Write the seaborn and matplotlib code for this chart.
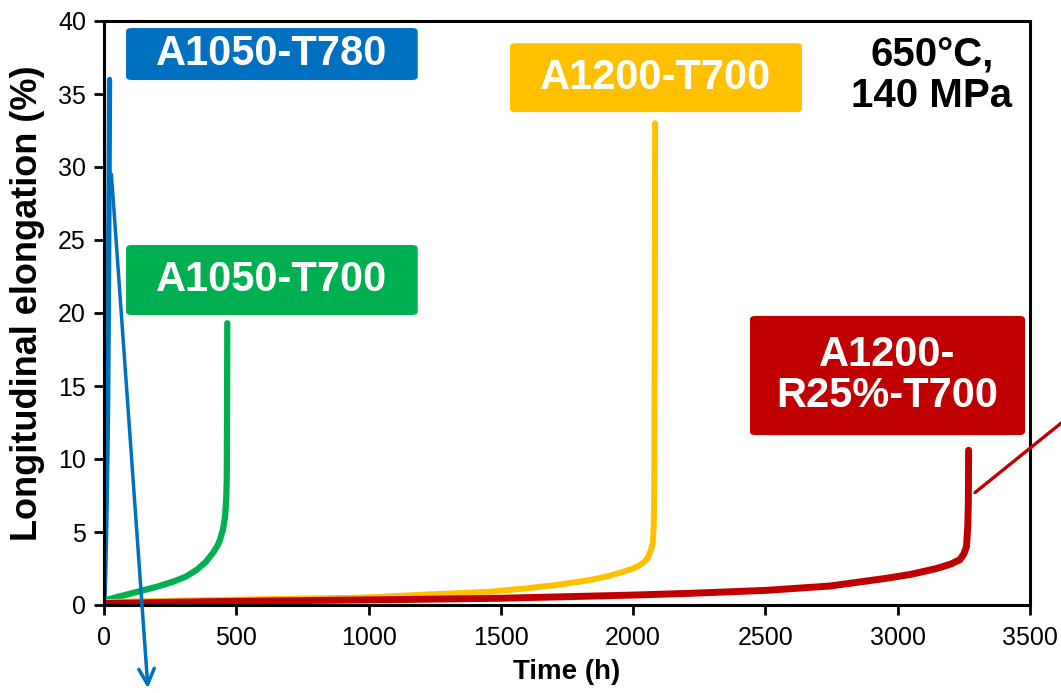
import matplotlib
matplotlib.use("Agg")
import matplotlib.pyplot as plt
import seaborn as sns
import pandas as pd
from matplotlib.patches import FancyBboxPatch

# ---- data ----
t_a1050_t780 = [0, 3, 6, 9, 12, 14, 16, 18, 20, 21]
e_a1050_t780 = [0.2, 2.0, 4.5, 7.5, 11.0, 14.0, 19.0, 25.0, 32.0, 36.0]

t_a1050_t700 = [0, 50, 100, 136, 200, 262, 310, 350, 385, 413, 430, 439, 450, 458, 462, 464, 465, 466]
e_a1050_t700 = [0.3, 0.55, 0.78, 0.95, 1.25, 1.6, 1.95, 2.4, 2.95, 3.6, 4.1, 4.5, 5.2, 6.1, 7.3, 8.6, 13.0, 19.3]

t_a1200_t700 = [0, 300, 600, 967, 1200, 1459, 1600, 1711, 1837, 1900, 1963, 2000, 2026, 2045,
                2057, 2068, 2074, 2078, 2080, 2082, 2083]
e_a1200_t700 = [0.2, 0.3, 0.4, 0.5, 0.7, 0.91, 1.15, 1.37, 1.71, 1.95, 2.28, 2.5, 2.74, 3.0,
                3.3, 3.8, 4.2, 5.5, 8.0, 20.0, 33.0]

t_a1200_r25 = [0, 300, 738, 1000, 1497, 2000, 2215, 2500, 2744, 2958, 3050, 3147, 3200, 3235,
               3250, 3260, 3265, 3267, 3268]
e_a1200_r25 = [0.1, 0.2, 0.3, 0.35, 0.46, 0.68, 0.8, 1.0, 1.3, 1.83, 2.1, 2.5, 2.8, 3.1,
               3.5, 4.0, 5.5, 7.2, 10.6]

x_ticks = [0, 500, 1000, 1500, 2000, 2500, 3000, 3500]
y_ticks = [0, 5, 10, 15, 20, 25, 30, 35, 40]

labels = ["A1050-T780", "A1050-T700", "A1200-T700", "A1200-\nR25%-T700"]
colors = ["#0070C0", "#00B050", "#FFC000", "#C00000"]

# ---- style ----
sns.set_style("white")
plt.rcParams["font.family"] = ["Liberation Sans", "DejaVu Sans"]
plt.rcParams["text.color"] = "black"
plt.rcParams["axes.labelcolor"] = "black"
plt.rcParams["xtick.color"] = "black"
plt.rcParams["ytick.color"] = "black"

fig = plt.figure(figsize=(10.61, 6.93), dpi=100)
ax = fig.add_axes([104/1061, 1-605/693, 926/1061, 584/693])

series = [
    (t_a1050_t700, e_a1050_t700, colors[1], 4.5),
    (t_a1050_t780, e_a1050_t780, colors[0], 3.8),
    (t_a1200_t700, e_a1200_t700, colors[2], 4.3),
    (t_a1200_r25, e_a1200_r25, colors[3], 5.0),
]
for t, e, c, lw in series:
    df = pd.DataFrame({"t": t, "e": e})
    sns.lineplot(data=df, x="t", y="e", ax=ax, color=c, linewidth=lw,
                 sort=False, estimator=None, solid_capstyle="round",
                 solid_joinstyle="round")

ax.set_xlim(0, 3500)
ax.set_ylim(0, 40)
ax.set_xticks(x_ticks)
ax.set_yticks(y_ticks)
ax.tick_params(axis="both", direction="out", length=7, width=2, colors="black",
               labelsize=18, bottom=True, left=True)
ax.tick_params(axis="x", pad=8)
ax.tick_params(axis="y", pad=6)
for s in ax.spines.values():
    s.set_visible(True)
    s.set_color("black")
    s.set_linewidth(2.2)

ax.set_xlabel("Time (h)", fontsize=20, fontweight="bold", va="center")
ax.set_ylabel("Longitudinal elongation (%)", fontsize=26, fontweight="bold", va="center")
ax.xaxis.set_label_coords(0.5, -0.114)
ax.yaxis.set_label_coords(-0.083, 0.516)

# ---- label boxes (axes fraction) ----
boxes = [
    (0.0238, 0.899, 0.315, 0.089, labels[0], colors[0]),
    (0.0238, 0.4966, 0.315, 0.1198, labels[1], colors[1]),
    (0.4384, 0.844, 0.3154, 0.118, labels[2], colors[2]),
    (0.6976, 0.291, 0.297, 0.204, labels[3], colors[3]),
]
for x0, y0, w, h, txt, c in boxes:
    p = FancyBboxPatch((x0, y0), w, h, boxstyle="round,pad=0,rounding_size=0.006",
                       transform=ax.transAxes, facecolor=c, edgecolor="none",
                       clip_on=False, zorder=5)
    ax.add_patch(p)
    ax.text(x0 + w/2, y0 + h/2, txt, transform=ax.transAxes, ha="center", va="center",
            color="white", fontsize=30, fontweight="bold", zorder=6, linespacing=1.05)

ax.text(0.894, 0.906, "650°C,\n140 MPa", transform=ax.transAxes, ha="center",
        va="center", color="black", fontsize=29, fontweight="bold", linespacing=1.1)

# ---- arrows ----
ax.annotate("", xy=(166, -5.7), xytext=(28, 29.5), xycoords="data",
            arrowprops=dict(arrowstyle="->", color=colors[0], lw=2.5, mutation_scale=28,
                            shrinkA=0, shrinkB=0),
            annotation_clip=False, zorder=7)
ax.annotate("", xy=(3689, 13.5), xytext=(3292, 7.7), xycoords="data",
            arrowprops=dict(arrowstyle="-", color=colors[3], lw=2.4, shrinkA=0, shrinkB=0),
            annotation_clip=False, zorder=7)

fig.savefig("out.png", dpi=100)
